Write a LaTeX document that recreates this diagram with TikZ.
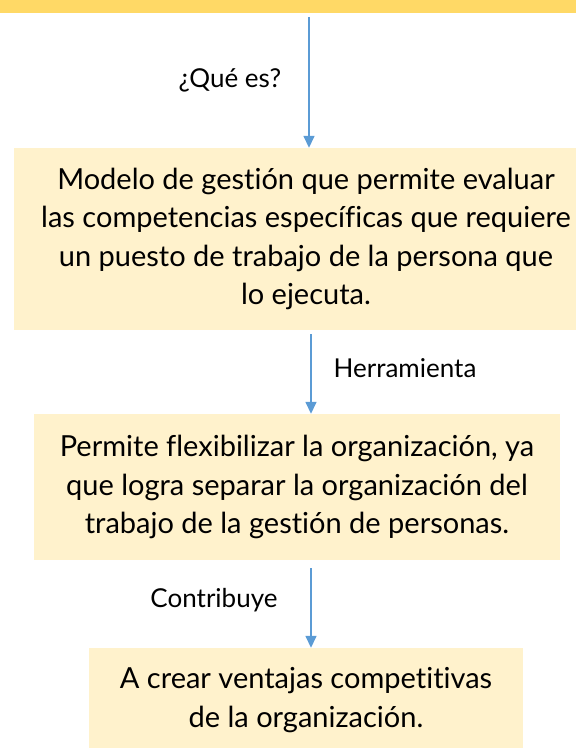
\documentclass[tikz,border=0pt]{standalone}
\usepackage{fontspec}
\setmainfont{Lato}[Ligatures=NoCommon]
\usetikzlibrary{arrows.meta,positioning}
\definecolor{barYellow}{HTML}{FFD966}
\definecolor{boxYellow}{HTML}{FFF2CC}
\definecolor{arrowBlue}{HTML}{5B9BD5}
\tikzset{
  box/.style={fill=boxYellow, align=center, inner sep=0pt, font=\fontsize{29}{38.5}\selectfont},
  lbl/.style={font=\fontsize{26}{30}\selectfont},
  arr/.style={draw=arrowBlue, line width=1.5pt, -{Triangle[width=11pt,length=12pt]}, fill=arrowBlue}
}
\begin{document}
\begin{tikzpicture}[x=1pt,y=1pt]
	\useasboundingbox (0,0) rectangle (576,-748);
	\clip (0,0) rectangle (576,-748);
	% header bar and the three boxes
	\node[fill=barYellow, minimum width=576pt, minimum height=13pt, inner sep=0pt] (bar) at (288,-6.5) {};
	\node[box, minimum width=584pt, minimum height=182pt] (box1) at (306,-239)
		{Modelo de gestión que permite evaluar\\las competencias específicas que requiere\\un puesto de trabajo de la persona que\\lo ejecuta.};
	\node[box, minimum width=526pt, minimum height=146pt] (box2) at (297,-487)
		{Permite flexibilizar la organización, ya\\que logra separar la organización del\\trabajo de la gestión de personas.};
	\node[box, minimum width=434pt, minimum height=104pt] (box3) at (306,-700)
		{A crear ventajas competitivas\\de la organización.};

	% connectors
	\coordinate (a1) at (309,0);
	\coordinate (a2) at (311,0);
	\draw[arr, shorten <=4pt] (bar.south -| a1) -- (box1.north -| a1);
	\draw[arr, shorten <=4pt] (box1.south -| a2) -- (box2.north -| a2);
	\draw[arr, shorten <=8pt] (box2.south -| a2) -- (box3.north -| a2);

	\node[lbl] (q1) at (230,-80) {¿Qué es?};
	\node[lbl] (q2) at (405,-368) {Herramienta};
	\node[lbl] (q3) at (214,-600) {Contribuye};
\end{tikzpicture}
\end{document}
